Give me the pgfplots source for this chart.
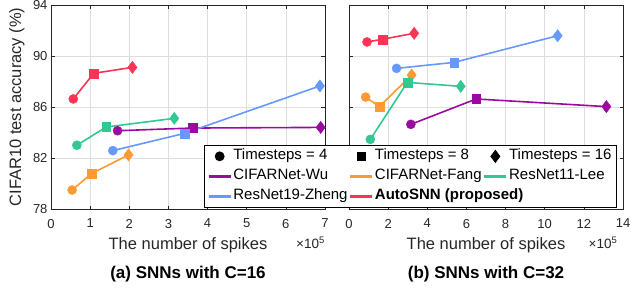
\documentclass[border=0pt]{standalone}
\usepackage{pgfplots}
\pgfplotsset{compat=1.18}
\usepackage{fontspec}
\setmainfont{Liberation Sans}
\definecolor{cwu}{RGB}{155,10,160}
\definecolor{cfang}{RGB}{255,153,51}
\definecolor{clee}{RGB}{51,200,145}
\definecolor{czheng}{RGB}{102,153,255}
\definecolor{cauto}{RGB}{255,51,85}
\definecolor{axc}{RGB}{38,38,38}
\definecolor{gridc}{RGB}{222,222,222}
\begin{document}
\begin{tikzpicture}
\useasboundingbox (0,0) rectangle (631pt,290pt);
\pgfplotsset{
  myax/.style={
    scale only axis, width=274pt, height=204pt, anchor=south west,
    ymin=78, ymax=94, ytick={78,82,86,90,94},
    grid=major, major grid style={draw=gridc, line width=0.6pt},
    axis line style={draw=axc, line width=0.8pt},
    tick style={draw=axc, line width=0.6pt},
    major tick length=3.5pt,
    tick align=inside,
    ticklabel style={font=\fontsize{13}{15}\selectfont, text=axc},
    xticklabel style={yshift=-6.5pt},
    /pgf/number format/assume math mode=true,
    clip=false,
    xlabel style={font=\fontsize{16.5}{19}\selectfont, text=axc, at={(axis description cs:0.5,-0.176)}, anchor=center},
  },
  ts/.style={scatter, scatter src=explicit symbolic, color=#1, line width=1.6pt, forget plot,
    scatter/classes={
      a={mark=*, mark size=4.6pt, draw=#1, fill=#1, line width=0.3pt},
      b={mark=square*, mark size=4.4pt, draw=#1, fill=#1, line width=0.3pt},
      c={mark=diamond*, mark size=6.2pt, draw=#1, fill=#1, line width=0.3pt}}},
  lg/.style={line width=2.4pt, draw=#1, legend image code/.code={\draw[draw=#1, line width=2.4pt] (0pt,0pt) -- (22pt,0pt);}},
}
% ---------- (a) C=16 ----------
\begin{axis}[myax, at={(51pt,81pt)}, xmin=0, xmax=7, xtick={0,1,2,3,4,5,6,7},
  xlabel={The number of spikes},
  ylabel={CIFAR10 test accuracy (\%)},
  ylabel style={font=\fontsize{16.5}{19}\selectfont, text=axc, at={(axis description cs:-0.125,0.5)}, anchor=center},
]
\addplot[ts=cwu] table[meta=c, row sep=\\]{x y c\\ 1.70 84.14 a\\ 3.61 84.35 b\\ 6.89 84.40 c\\};
\addplot[ts=cfang] table[meta=c, row sep=\\]{x y c\\ 0.54 79.49 a\\ 1.03 80.77 b\\ 1.98 82.24 c\\};
\addplot[ts=clee] table[meta=c, row sep=\\]{x y c\\ 0.66 83.00 a\\ 1.41 84.43 b\\ 3.15 85.11 c\\};
\addplot[ts=czheng] table[meta=c, row sep=\\]{x y c\\ 1.58 82.58 a\\ 3.41 83.93 b\\ 6.87 87.65 c\\};
\addplot[ts=cauto] table[meta=c, row sep=\\]{x y c\\ 0.57 86.63 a\\ 1.09 88.64 b\\ 2.08 89.11 c\\};
\node[anchor=east, text=axc, font=\fontsize{13.5}{15}\selectfont, inner xsep=0pt] at (axis description cs:1.0,-0.167) {×10\textsuperscript{5}};
\node[anchor=center, text=black, font=\fontsize{17}{19}\selectfont\bfseries] at (axis description cs:0.5,-0.319) {(a) SNNs with C=16};
\end{axis}
% ---------- (b) C=32 ----------
\begin{axis}[myax, at={(349pt,81pt)}, xmin=0, xmax=14, xtick={0,2,4,6,8,10,12,14},
  yticklabels={},
  xlabel={The number of spikes},
  legend columns=3,
  legend cell align=left,
  legend style={at={(axis description cs:-0.529,0.314)}, anchor=north west,
    draw=black, line width=0.8pt, fill=white,
    font=\fontsize{15}{18}\selectfont, inner xsep=3pt, inner ysep=1pt,
    row sep=0pt,
    nodes={inner xsep=1.5pt, inner ysep=2.5pt, text depth=4pt, text height=11pt}},
]
\addplot[ts=cwu] table[meta=c, row sep=\\]{x y c\\ 3.16 84.64 a\\ 6.50 86.63 b\\ 13.15 86.03 c\\};
\addplot[ts=cfang] table[meta=c, row sep=\\]{x y c\\ 0.85 86.78 a\\ 1.55 86.03 b\\ 3.20 88.51 c\\};
\addplot[ts=clee] table[meta=c, row sep=\\]{x y c\\ 1.09 83.46 a\\ 2.98 87.93 b\\ 5.71 87.62 c\\};
\addplot[ts=czheng] table[meta=c, row sep=\\]{x y c\\ 2.43 89.03 a\\ 5.37 89.50 b\\ 10.66 91.59 c\\};
\addplot[ts=cauto] table[meta=c, row sep=\\]{x y c\\ 0.92 91.10 a\\ 1.70 91.31 b\\ 3.33 91.78 c\\};
\node[anchor=east, text=axc, font=\fontsize{13.5}{15}\selectfont, inner xsep=0pt] at (axis description cs:0.98,-0.167) {×10\textsuperscript{5}};
\node[anchor=center, text=black, font=\fontsize{17}{19}\selectfont\bfseries] at (axis description cs:0.5,-0.319) {(b) SNNs with C=32};
\addlegendimage{legend image code/.code={\draw[black, mark=*, mark size=4.5pt] plot coordinates {(11pt,0pt)};}}
\addlegendentry{Timesteps = 4}
\addlegendimage{legend image code/.code={\draw[black, mark=square*, mark size=4.3pt] plot coordinates {(11pt,0pt)};}}
\addlegendentry{Timesteps = 8}
\addlegendimage{legend image code/.code={\draw[black, mark=diamond*, mark size=6pt] plot coordinates {(11pt,0pt)};}}
\addlegendentry{Timesteps = 16}
\addlegendimage{lg=cwu}
\addlegendentry{CIFARNet-Wu}
\addlegendimage{lg=cfang}
\addlegendentry{CIFARNet-Fang}
\addlegendimage{lg=clee}
\addlegendentry{ResNet11-Lee}
\addlegendimage{lg=czheng}
\addlegendentry{ResNet19-Zheng}
\addlegendimage{lg=cauto}
\addlegendentry{\makebox[0pt][l]{\bfseries AutoSNN (proposed)}}
\end{axis}
\end{tikzpicture}
\end{document}
